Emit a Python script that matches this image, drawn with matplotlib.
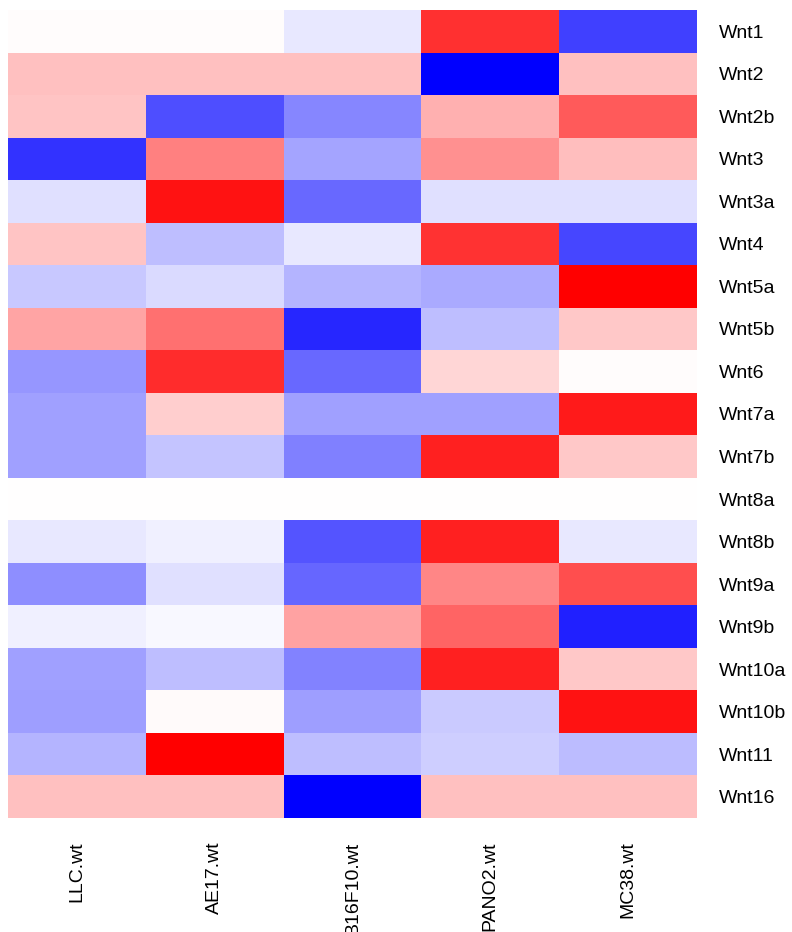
import numpy as np
import matplotlib
matplotlib.use("Agg")
import matplotlib.pyplot as plt
from matplotlib.colors import LinearSegmentedColormap

plt.rcParams['font.family'] = ['Liberation Sans', 'DejaVu Sans']

samples = ["LLC.wt", "AE17.wt", "B16F10.wt", "PANO2.wt", "MC38.wt"]
genes = ["Wnt1", "Wnt2", "Wnt2b", "Wnt3", "Wnt3a", "Wnt4", "Wnt5a", "Wnt5b",
         "Wnt6", "Wnt7a", "Wnt7b", "Wnt8a", "Wnt8b", "Wnt9a", "Wnt9b",
         "Wnt10a", "Wnt10b", "Wnt11", "Wnt16"]

# row-scaled expression (z-scores), one list per gene
wnt1 = [0.02, 0.02, -0.16, 1.45, -1.34]
wnt2 = [0.447, 0.447, 0.447, -1.789, 0.447]
wnt2b = [0.41, -1.23, -0.84, 0.55, 1.16]
wnt3 = [-1.43, 0.89, -0.64, 0.77, 0.45]
wnt3a = [-0.21, 1.66, -1.06, -0.21, -0.21]
wnt4 = [0.41, -0.45, -0.16, 1.43, -1.29]
wnt5a = [-0.39, -0.26, -0.53, -0.60, 1.78]
wnt5b = [0.63, 1.00, -1.52, -0.45, 0.38]
wnt6 = [-0.73, 1.47, -1.06, 0.29, 0.02]
wnt7a = [-0.66, 0.34, -0.66, -0.66, 1.60]
wnt7b = [-0.66, -0.41, -0.89, 1.56, 0.39]
wnt8a = [0.0, 0.0, 0.0, 0.0, 0.0]
wnt8b = [-0.16, -0.11, -1.20, 1.56, -0.16]
wnt9a = [-0.79, -0.21, -1.07, 0.84, 1.23]
wnt9b = [-0.11, -0.05, 0.65, 1.09, -1.56]
wnt10a = [-0.66, -0.45, -0.88, 1.56, 0.38]
wnt10b = [-0.68, 0.04, -0.68, -0.37, 1.66]
wnt11 = [-0.52, 1.78, -0.45, -0.34, -0.47]
wnt16 = [0.447, 0.447, -1.789, 0.447, 0.447]

values = np.array([wnt1, wnt2, wnt2b, wnt3, wnt3a, wnt4, wnt5a, wnt5b, wnt6,
                   wnt7a, wnt7b, wnt8a, wnt8b, wnt9a, wnt9b, wnt10a, wnt10b,
                   wnt11, wnt16])

limit = 1.789
cmap = LinearSegmentedColormap.from_list("bwr_pure", ["#0000FF", "#FFFFFF", "#FF0000"], N=256)

W, H = 792, 932
fig = plt.figure(figsize=(W / 100, H / 100), dpi=100)
ax = fig.add_axes([8 / W, (H - 818) / H, (697 - 8) / W, (818 - 10) / H])

ax.pcolormesh(values, cmap=cmap, vmin=-limit, vmax=limit, edgecolors="none")
ax.set_xlim(0, len(samples))
ax.set_ylim(len(genes), 0)

ax.set_xticks(np.arange(len(samples)) + 0.5)
ax.set_xticklabels(samples, rotation=90, fontsize=14)
ax.set_yticks(np.arange(len(genes)) + 0.5)
ax.set_yticklabels(genes, fontsize=14)
ax.yaxis.tick_right()
ax.tick_params(axis="x", length=0, pad=17)
ax.tick_params(axis="y", length=0, pad=16)
for spine in ax.spines.values():
    spine.set_visible(False)

fig.savefig("out.png", dpi=100)
